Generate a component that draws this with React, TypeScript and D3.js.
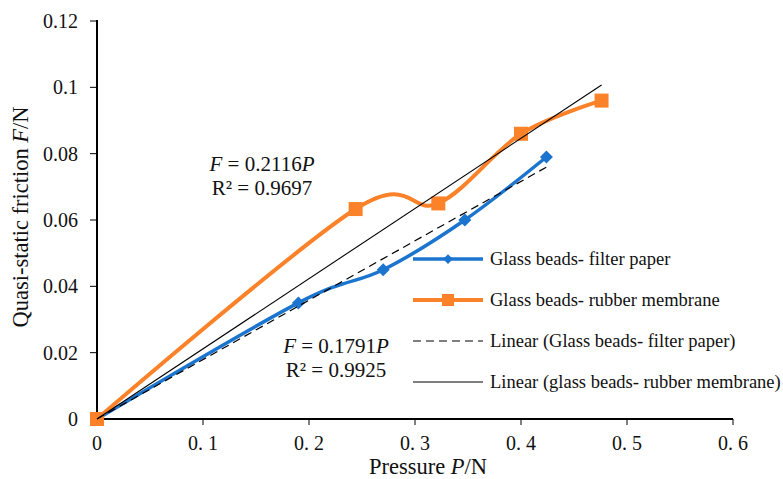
import React, { useMemo } from "react";
import * as d3 from "d3";

const pressureFilter = [0, 0.19, 0.27, 0.347, 0.424];
const frictionFilter = [0, 0.035, 0.045, 0.06, 0.079];
const pressureRubber = [0, 0.244, 0.322, 0.4, 0.476];
const frictionRubber = [0, 0.0633, 0.065, 0.086, 0.096];
const slopeFilter = 0.1791;
const slopeRubber = 0.2116;
const xTicks = [0, 0.1, 0.2, 0.3, 0.4, 0.5, 0.6];
const yTicks = [0, 0.02, 0.04, 0.06, 0.08, 0.1, 0.12];
const legendLabels = [
  "Glass beads- filter paper",
  "Glass beads- rubber membrane",
  "Linear (Glass beads- filter paper)",
  "Linear (glass beads- rubber membrane)",
];

const W = 783;
const H = 479;
const FONT = "'Liberation Serif', 'Times New Roman', serif";
const BLUE = "#1B75CE";
const ORANGE = "#FB8229";

export default function App() {
  const x = useMemo(() => d3.scaleLinear().domain([0, 0.6]).range([97, 733]), []);
  const y = useMemo(() => d3.scaleLinear().domain([0, 0.12]).range([419, 21]), []);

  const filterPts: [number, number][] = pressureFilter.map((p, i) => [p, frictionFilter[i]]);
  const rubberPts: [number, number][] = pressureRubber.map((p, i) => [p, frictionRubber[i]]);

  const smooth = d3
    .line<[number, number]>()
    .x((d) => x(d[0]))
    .y((d) => y(d[1]))
    .curve(d3.curveCardinal.tension(0));

  const straight = d3
    .line<[number, number]>()
    .x((d) => x(d[0]))
    .y((d) => y(d[1]));

  const maxF = d3.max(pressureFilter) as number;
  const maxR = d3.max(pressureRubber) as number;
  const trendF: [number, number][] = [
    [0, 0],
    [maxF, slopeFilter * maxF],
  ];
  const trendR: [number, number][] = [
    [0, 0],
    [maxR, slopeRubber * maxR],
  ];

  const r = 6.5;
  const diamond = `M0,${-r}L${r},0L0,${r}L${-r},0Z`;
  const sq = 14;

  const xFmt = (d: number) => (d === 0 ? "0" : d.toFixed(1).replace(".", ". "));
  const yFmt = (d: number) => String(+d.toFixed(2));

  const legX0 = 413;
  const legX1 = 483;
  const legTextX = 490;
  const legY = [259, 300, 341, 382];

  return (
    <div style={{ position: "absolute", left: 0, top: 0 }}>
      <svg width={W} height={H} style={{ display: "block", background: "#fff" }} fontFamily={FONT}>
        {/* axes */}
        <line x1={x(0)} x2={x(0)} y1={y(0.12) - 1} y2={y(0) + 1} stroke="#000" strokeWidth={2} />
        <line x1={x(0) - 1} x2={x(0.6)} y1={y(0)} y2={y(0)} stroke="#000" strokeWidth={2} />
        {yTicks.map((t) => (
          <g key={"yt" + t}>
            <line x1={x(0) - 7} x2={x(0)} y1={y(t)} y2={y(t)} stroke="#000" strokeWidth={1} />
            <text x={78} y={y(t)} dy="0.35em" textAnchor="end" fontSize={20} fill="#111">
              {yFmt(t)}
            </text>
          </g>
        ))}
        {xTicks.map((t) => (
          <g key={"xt" + t}>
            <line x1={x(t)} x2={x(t)} y1={y(0)} y2={y(0) + 6} stroke="#000" strokeWidth={1} />
            <text x={x(t)} y={450} textAnchor="middle" fontSize={20} fill="#111">
              {xFmt(t)}
            </text>
          </g>
        ))}
        <text x={428} y={474} textAnchor="middle" fontSize={22.5} fill="#111">
          Pressure <tspan fontStyle="italic">P</tspan>/N
        </text>
        <text
          transform={`translate(28,217) rotate(-90)`}
          textAnchor="middle"
          fontSize={22.5}
          fill="#111"
        >
          Quasi-static friction <tspan fontStyle="italic">F</tspan>/N
        </text>

        {/* series */}
        <path d={smooth(filterPts) || ""} fill="none" stroke={BLUE} strokeWidth={3.5} />
        {filterPts.map((d, i) => (
          <path key={"fd" + i} d={diamond} transform={`translate(${x(d[0])},${y(d[1])})`} fill={BLUE} />
        ))}
        <path d={smooth(rubberPts) || ""} fill="none" stroke={ORANGE} strokeWidth={4} />
        {rubberPts.map((d, i) => (
          <rect
            key={"rs" + i}
            x={x(d[0]) - sq / 2}
            y={y(d[1]) - sq / 2}
            width={sq}
            height={sq}
            fill={ORANGE}
          />
        ))}

        {/* trendlines */}
        <path d={straight(trendF) || ""} fill="none" stroke="#000" strokeWidth={1.2} strokeDasharray="8,5" />
        <path d={straight(trendR) || ""} fill="none" stroke="#000" strokeWidth={1.1} />

        {/* equations */}
        <text x={262} y={171} textAnchor="middle" fontSize={21} fill="#111">
          <tspan fontStyle="italic">F</tspan> = 0.2116<tspan fontStyle="italic">P</tspan>
        </text>
        <text x={262} y={195} textAnchor="middle" fontSize={21} fill="#111">
          R² = 0.9697
        </text>
        <text x={336} y={353} textAnchor="middle" fontSize={21} fill="#111">
          <tspan fontStyle="italic">F</tspan> = 0.1791<tspan fontStyle="italic">P</tspan>
        </text>
        <text x={336} y={377} textAnchor="middle" fontSize={21} fill="#111">
          R² = 0.9925
        </text>

        {/* legend */}
        <line x1={legX0} x2={legX1} y1={legY[0]} y2={legY[0]} stroke={BLUE} strokeWidth={3.5} />
        <path d={diamond} transform={`translate(${(legX0 + legX1) / 2},${legY[0]}) scale(0.75)`} fill={BLUE} />
        <line x1={legX0} x2={legX1} y1={legY[1]} y2={legY[1]} stroke={ORANGE} strokeWidth={4} />
        <rect x={(legX0 + legX1) / 2 - 6} y={legY[1] - 6} width={12} height={12} fill={ORANGE} />
        <line x1={legX0} x2={legX1} y1={legY[2]} y2={legY[2]} stroke="#000" strokeWidth={1.2} strokeDasharray="8,5" />
        <line x1={legX0} x2={legX1} y1={legY[3]} y2={legY[3]} stroke="#000" strokeWidth={1.1} />
        {legendLabels.map((lab, i) => (
          <text key={lab} x={legTextX} y={legY[i]} dy="0.33em" fontSize={18.5} fill="#111">
            {lab}
          </text>
        ))}
      </svg>
    </div>
  );
}
